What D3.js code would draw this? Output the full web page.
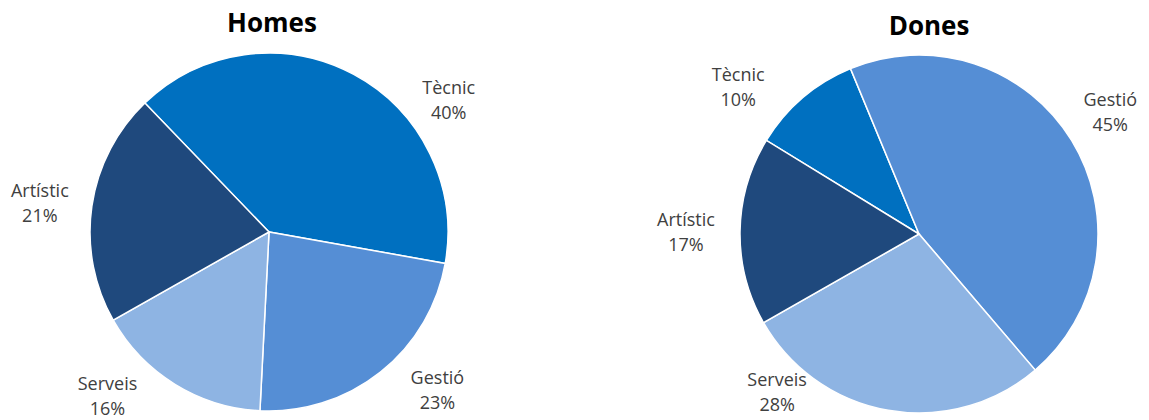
<!DOCTYPE html>
<html>
<head>
<meta charset="utf-8">
<script src="https://cdn.jsdelivr.net/npm/d3@7"></script>
<style>
  body { margin: 0; background: #fff; }
  text { font-family: "Open Sans", "DejaVu Sans", sans-serif; }
</style>
</head>
<body>
<div id="chart"></div>
<script>
// data
const categories = ["Tècnic", "Gestió", "Serveis", "Artístic"];
const homesValues = [40, 23, 16, 21];
const donesValues = [10, 45, 28, 17];
const colors = ["#0070C0", "#558ED5", "#8EB4E3", "#1F497D"];

// layout
const w = 1149, h = 420;
const radius = 179;
const charts = [
  {title: "Homes", values: homesValues, cx: 269, cy: 232, titleX: 272, titleY: 32, start: -43.9,
   // label anchor as [angle deg, distance] from pie centre
   labels: [[53.7, 223], [133.2, 231], [-135.4, 230], [-82.8, 231]]},
  {title: "Dones", values: donesValues, cx: 919, cy: 234, titleX: 929, titleY: 35, start: -58.5,
   labels: [[-50.9, 233], [57.4, 227], [-138, 212], [-89.5, 233]]}
];

const rad = d => d * Math.PI / 180;

const svg = d3.select("#chart")
  .append("svg")
    .attr("width", w)
    .attr("height", h);

const arc = d3.arc()
    .innerRadius(0)
    .outerRadius(radius);

charts.forEach(c => {
  const pie = d3.pie()
      .sort(null)
      .startAngle(rad(c.start))
      .endAngle(rad(c.start) + 2 * Math.PI);

  const g = svg.append("g")
      .attr("transform", `translate(${c.cx}, ${c.cy})`);

  g.selectAll("path")
    .data(pie(c.values))
    .enter().append("path")
      .attr("d", arc)
      .attr("fill", (d, i) => colors[i])
      .attr("stroke", "#fff")
      .attr("stroke-width", 1.5);

  const lab = g.selectAll("g.lab")
    .data(pie(c.values))
    .enter().append("g")
      .attr("class", "lab")
      .attr("transform", (d, i) => {
        const a = rad(c.labels[i][0]), r = c.labels[i][1];
        return `translate(${r * Math.sin(a)}, ${-r * Math.cos(a)})`;
      });

  lab.append("text")
      .attr("text-anchor", "middle")
      .attr("y", -6)
      .attr("font-size", 18)
      .attr("fill", "#404040")
      .text((d, i) => categories[i]);

  lab.append("text")
      .attr("text-anchor", "middle")
      .attr("y", 19)
      .attr("font-size", 18)
      .attr("fill", "#404040")
      .text(d => d3.format(".0f")(d.data) + "%");

  svg.append("text")
      .attr("x", c.titleX)
      .attr("y", c.titleY)
      .attr("text-anchor", "middle")
      .attr("font-size", 26)
      .attr("font-weight", "bold")
      .attr("fill", "#000")
      .text(c.title);
});
</script>
</body>
</html>
